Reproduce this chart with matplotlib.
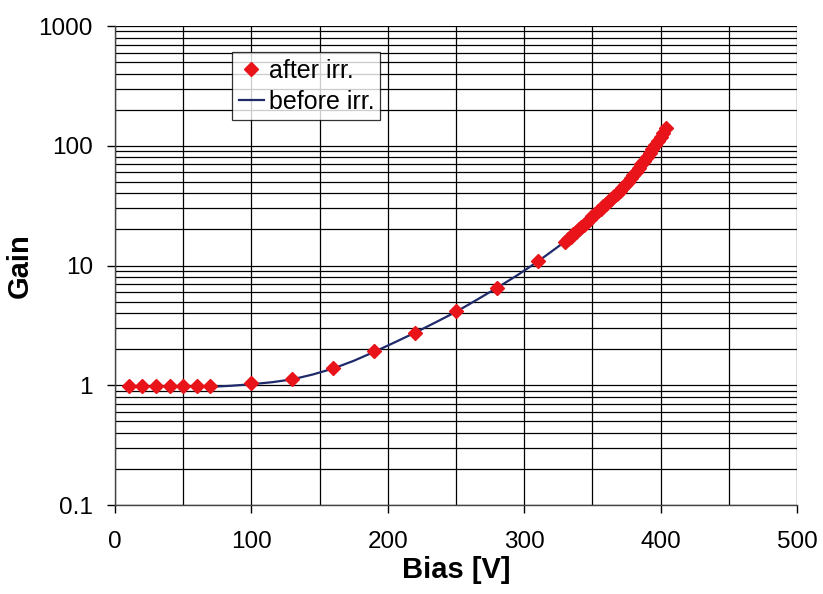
import numpy as np
import matplotlib.pyplot as plt
from matplotlib.ticker import LogLocator, MultipleLocator, FixedLocator

plt.rcParams['font.family'] = ['Liberation Sans', 'DejaVu Sans']

# after irradiation (measured points)
bias_after = [10, 20, 30, 40, 50, 60, 70, 100, 130, 160, 190, 220, 250, 280, 310,
              330, 332, 334, 336, 338, 340, 342, 344, 346, 348, 350, 352, 354, 356,
              358, 360, 362, 364, 366, 368, 370, 372, 374, 376, 378, 380, 382, 384,
              386, 388, 390, 392, 394, 396, 398, 400, 402, 404]
gain_after = [0.98, 0.98, 0.98, 0.98, 0.98, 0.98, 0.98, 1.05, 1.12, 1.4, 1.92, 2.75, 4.15,
              6.5, 11.0,
              15.8, 16.6, 17.4, 18.2, 19.1, 20.0, 21.0, 22.0, 23.2, 24.4, 25.7, 27.0,
              28.4, 29.8, 31.3, 32.8, 34.4, 36.0, 37.8, 39.8, 42.0, 44.5, 47.2, 50.2,
              53.5, 57.0, 60.9, 65.2, 70.0, 75.3, 81.0, 87.5, 94.5, 102, 110, 119, 129, 140]

# before irradiation (line)
bias_before = [70, 85, 100, 115, 130, 145, 160, 175, 190, 205, 220, 235, 250, 265, 280,
               295, 310, 325, 340, 355, 370, 385, 400, 404]
gain_before = [0.97, 0.99, 1.02, 1.06, 1.12, 1.23, 1.38, 1.6, 1.9, 2.28, 2.75, 3.35, 4.1,
               5.15, 6.5, 8.3, 10.8, 14.4, 19.5, 28.0, 41.0, 66.0, 118, 138]

fig = plt.figure(figsize=(8.23, 5.94), dpi=100)
ax = fig.add_axes([0.1397, 0.1498, 0.8287, 0.8064])

ax.plot(bias_before, gain_before, color='#1f2a6b', lw=1.6, label='before irr.', zorder=3)
ax.plot(bias_after, gain_after, ls='none', marker='D', ms=7, color='#e8141a',
        mec='#e8141a', label='after irr.', zorder=4)

ax.set_yscale('log')
ax.set_xlim(0, 500)
ax.set_ylim(0.1, 1000)

ax.xaxis.set_major_locator(MultipleLocator(100))
ax.xaxis.set_minor_locator(MultipleLocator(50))
ax.yaxis.set_major_locator(FixedLocator([0.1, 1, 10, 100, 1000]))
ax.yaxis.set_minor_locator(LogLocator(base=10, subs=np.arange(2, 10), numticks=20))
ax.set_yticklabels(['0.1', '1', '10', '100', '1000'])

ax.grid(True, which='both', color='black', lw=0.9)
ax.tick_params(which='major', direction='out', length=6, width=1, labelsize=17.5)
ax.tick_params(axis='x', which='major', pad=13)
ax.tick_params(axis='y', which='major', pad=10)
ax.tick_params(which='minor', length=0)
for s in ax.spines.values():
    s.set_color('#444444')
    s.set_linewidth(1)
ax.spines['top'].set_visible(False)
ax.spines['right'].set_visible(False)

ax.set_xlabel('Bias [V]', fontsize=21, fontweight='bold', labelpad=2)
ax.set_ylabel('Gain', fontsize=21, fontweight='bold', labelpad=3)

handles, labels = ax.get_legend_handles_labels()
leg = ax.legend(handles[::-1], labels[::-1], loc='upper left', bbox_to_anchor=(0.172, 0.945),
                fontsize=18, frameon=True, fancybox=False, edgecolor='black',
                handlelength=1.0, handletextpad=0.2, borderpad=0.25, labelspacing=0.3,
                borderaxespad=0)
leg.get_frame().set_linewidth(0.9)
leg.set_zorder(10)

fig.savefig('out.png', dpi=100)
